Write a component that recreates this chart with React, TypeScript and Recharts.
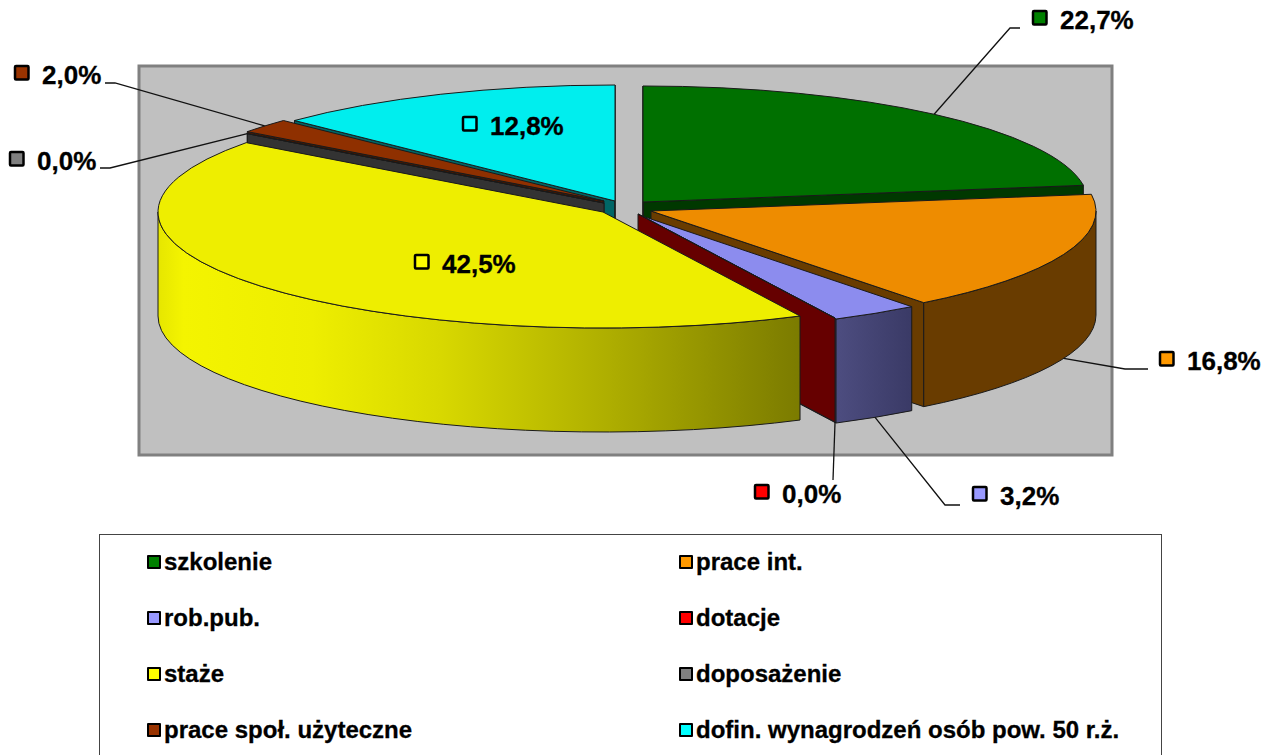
import { Legend, Pie, PieChart } from 'recharts';

const categories = ['szkolenie', 'prace int.', 'rob.pub.', 'dotacje', 'staże', 'doposażenie', 'prace społ. użyteczne', 'dofin. wynagrodzeń osób pow. 50 r.ż.'];
const shares = [22.7, 16.8, 3.2, 0.0, 42.5, 0.0, 2.0, 12.8];
const legendColors = ['#008000', '#ff9900', '#9999ff', '#ff0000', '#ffff00', '#808080', '#993300', '#00ffff'];
const topColors = ['#007000', '#ee8c00', '#8c8cee', '#ee0000', '#eeee00', '#777777', '#8f3000', '#00eeee'];
const wallColors = ['#003800', '#693c00', 'url(#blueWall)', '#660000', 'url(#yellowWall)', '#333333', '#4a1900', '#006666'];

// layout of the exploded 3d look, per slice
const explodeX = [15, 23, 11, 10, -25, -24, -24, -13];
const explodeY = [-3, 6, 10, 9, 7, -2, -4, -4];
const markerPos = [[1033, 11], [1160, 352], [973, 487], [755, 485], [415, 255], [10, 152], [15, 66], [463, 117]];
const elbows: (number[][] | null)[] = [
  [[1010, 28], [1020, 28]],
  [[1125, 369], [1148, 369]],
  [[945, 505], [960, 505]],
  [[833, 480]],
  null,
  [[110, 168], [100, 168]],
  [[115, 83], [105, 83]],
  null,
];
const drawOrder = [0, 7, 6, 5, 1, 2, 3, 4];

const SQUASH = 0.2607;
const DEPTH = 104;
const LINE = '#1a1a1a';

const tableData = categories.map((name, i) => ({ name, value: shares[i], fill: legendColors[i] }));

const pointAt = (x: number, y: number, r: number, deg: number) => {
  const t = (deg * Math.PI) / 180;
  return [x + r * Math.sin(t), y - r * SQUASH * Math.cos(t)];
};

function Slice3D(props: any, only: number) {
  const i = categories.indexOf(props.name);
  if (i !== only) return <g />;
  const r = props.outerRadius;
  const x = props.cx + explodeX[i];
  const y = props.cy + explodeY[i];
  const a = 90 - props.startAngle;
  const b = 90 - props.endAngle;
  const [ax, ay] = pointAt(x, y, r, a);
  const [bx, by] = pointAt(x, y, r, b);
  const ry = r * SQUASH;

  const radial = (px: number, py: number) => `M${x},${y}L${px},${py}L${px},${py + DEPTH}L${x},${y + DEPTH}Z`;
  const from = Math.max(a, 90);
  const to = Math.min(b, 270);
  let rim = '';
  if (to > from) {
    const [fx, fy] = pointAt(x, y, r, from);
    const [tx, ty] = pointAt(x, y, r, to);
    rim = `M${fx},${fy}A${r},${ry} 0 0 1 ${tx},${ty}L${tx},${ty + DEPTH}A${r},${ry} 0 0 0 ${fx},${fy + DEPTH}Z`;
  }
  const large = b - a > 180 ? 1 : 0;
  const wall = wallColors[i];
  const plainWall = wall.startsWith('url') ? (i === 2 ? '#4d4d80' : '#666600') : wall;
  return (
    <g stroke={LINE} strokeWidth={1}>
      {Math.sin((a * Math.PI) / 180) <= 0 && a > 0 && <path d={radial(ax, ay)} fill={plainWall} />}
      {Math.sin((b * Math.PI) / 180) > 0 && <path d={radial(bx, by)} fill={plainWall} />}
      {a === 0 && i === 0 && <path d={radial(ax, ay)} fill={plainWall} />}
      {b === 360 && <path d={radial(bx, by)} fill={plainWall} />}
      {rim && <path d={rim} fill={wall} />}
      <path d={`M${x},${y}L${ax},${ay}A${r},${ry} 0 ${large} 1 ${bx},${by}Z`} fill={topColors[i]} />
    </g>
  );
}

function ShareLabel(props: any) {
  const i = categories.indexOf(props.name);
  const [mx, my] = markerPos[i];
  const text = shares[i].toFixed(1).replace('.', ',') + '%';
  const bend = elbows[i];
  let line = null;
  if (bend) {
    const deg = 90 - props.midAngle;
    const [sx, sy] = pointAt(props.cx + explodeX[i], props.cy + explodeY[i], props.outerRadius, deg);
    const down = Math.cos((deg * Math.PI) / 180) < 0 ? DEPTH : 0;
    const pts = [[sx, sy + down], ...bend].map((p) => p.join(',')).join(' ');
    line = <polyline points={pts} fill="none" stroke="#111111" strokeWidth={1.3} />;
  }
  return (
    <g>
      {line}
      <rect x={mx} y={my} width={13.5} height={13.5} rx={1} fill={legendColors[i]} stroke="#000000" strokeWidth={2.5} />
      <text x={mx + 27} y={my + 18} fontFamily="Liberation Sans" fontWeight="bold" fontSize={26} fill="#000000" stroke="#000000" strokeWidth={0.3}>
        {text}
      </text>
    </g>
  );
}

function LegendBox() {
  return (
    <div style={{ position: 'relative', width: '100%', height: '100%' }}>
      {categories.map((name, i) => (
        <div
          key={name}
          style={{
            position: 'absolute',
            left: i % 2 === 0 ? 47 : 579,
            top: 12 + Math.floor(i / 2) * 56,
            display: 'flex',
            alignItems: 'center',
            whiteSpace: 'nowrap',
            fontFamily: 'Liberation Sans',
            fontWeight: 'bold',
            fontSize: 24,
            lineHeight: '30px',
            color: '#000000',
            WebkitTextStroke: '0.3px #000000',
          }}
        >
          <span
            style={{
              width: 10,
              height: 10,
              marginRight: 3,
              border: '2.5px solid #000000',
              borderRadius: 1,
              background: legendColors[i],
              boxSizing: 'content-box',
              display: 'inline-block',
            }}
          />
          {name}
        </div>
      ))}
    </div>
  );
}

export default function App() {
  return (
    <div style={{ position: 'absolute', left: 0, top: 0, width: 1273, height: 755, overflow: 'hidden', background: '#ffffff' }}>
      <PieChart width={1273} height={755} margin={{ top: 0, right: 0, bottom: 0, left: 0 }}>
        <defs>
          <linearGradient id="yellowWall" x1="0" y1="0" x2="1" y2="0">
            <stop offset="0%" stopColor="#e6e600" />
            <stop offset="4%" stopColor="#f4f400" />
            <stop offset="24%" stopColor="#eeee00" />
            <stop offset="44%" stopColor="#d8d800" />
            <stop offset="69%" stopColor="#b0b000" />
            <stop offset="100%" stopColor="#7b7b00" />
          </linearGradient>
          <linearGradient id="blueWall" x1="0" y1="0" x2="1" y2="0">
            <stop offset="0%" stopColor="#4d4d80" />
            <stop offset="100%" stopColor="#3a3a66" />
          </linearGradient>
        </defs>
        <rect x={139} y={66} width={973} height={389} fill="#c0c0c0" stroke="#808080" strokeWidth={3} />
        {drawOrder.map((only, n) => (
          <Pie
            key={only}
            data={tableData}
            dataKey="value"
            nameKey="name"
            cx={628}
            cy={205}
            outerRadius={445}
            startAngle={90}
            endAngle={-270}
            legendType={n === 0 ? 'square' : 'none'}
            isAnimationActive={false}
            shape={(p: any) => Slice3D(p, only)}
          />
        ))}
        <Pie
          data={tableData}
          dataKey="value"
          nameKey="name"
          cx={628}
          cy={205}
          outerRadius={445}
          startAngle={90}
          endAngle={-270}
          legendType="none"
          isAnimationActive={false}
          shape={() => <g />}
          label={ShareLabel}
          labelLine={false}
        />
        <Legend
          content={LegendBox}
          wrapperStyle={{ position: 'absolute', left: 99, top: 534, width: 1063, height: 240, border: '1.5px solid #444444', boxSizing: 'border-box', background: '#ffffff' }}
        />
      </PieChart>
    </div>
  );
}
